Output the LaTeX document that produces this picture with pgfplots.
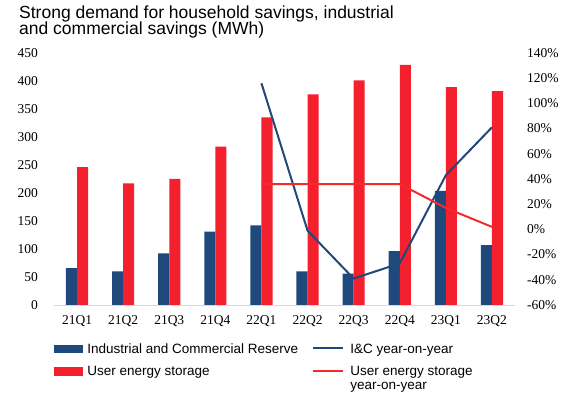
\documentclass[border=0pt]{standalone}
\usepackage{pgfplots}
\pgfplotsset{compat=1.18}
\usepackage{fontspec}
\setmainfont{Liberation Serif}
\newfontfamily\arialf{Liberation Sans}
\definecolor{icblue}{HTML}{1F497D}
\definecolor{usred}{HTML}{F5202E}
\definecolor{icline}{HTML}{24477A}
\definecolor{usline}{HTML}{F42A2D}
\definecolor{axgray}{HTML}{D9D9D9}
\begin{document}
\begin{tikzpicture}
\useasboundingbox (-54pt,-98pt) rectangle (515pt,305pt);
\begin{axis}[
  scale only axis, width=461pt, height=252pt,
  at={(0pt,0pt)}, anchor=south west,
  xmin=-0.5, xmax=9.5, ymin=0, ymax=450,
  axis x line*=bottom, axis y line*=left,
  x axis line style={draw=axgray, line width=0.8pt, -},
  y axis line style={draw=none},
  major tick length=0pt,
  xtick={0,...,9},
  xticklabels={21Q1,21Q2,21Q3,21Q4,22Q1,22Q2,22Q3,22Q4,23Q1,23Q2},
  ytick={0,50,...,450},
  tick label style={font=\fontsize{13.5}{14}\selectfont, inner sep=0pt},
  xticklabel style={yshift=-10pt},
  yticklabel style={xshift=-16pt},
  /pgf/number format/assume math mode=true,
  clip=false,
]
\addplot[ybar, bar width=0.24, bar shift=-0.12, fill=icblue, draw=none] coordinates {
 (0,66) (1,60) (2,92) (3,131) (4,142) (5,60) (6,56) (7,96) (8,204) (9,107)};
\addplot[ybar, bar width=0.24, bar shift=0.12, fill=usred, draw=none] coordinates {
 (0,246) (1,217) (2,225) (3,283) (4,335) (5,376) (6,401) (7,429) (8,389) (9,382)};
\end{axis}
\begin{axis}[
  scale only axis, width=461pt, height=252pt,
  at={(0pt,0pt)}, anchor=south west,
  xmin=-0.5, xmax=9.5, ymin=-60, ymax=140,
  axis y line*=right, axis x line=none,
  y axis line style={draw=none},
  major tick length=0pt,
  ytick={-60,-40,...,140},
  yticklabel={\pgfmathprintnumber{\tick}\%},
  tick label style={font=\fontsize{13.5}{14}\selectfont, inner sep=0pt},
  yticklabel style={anchor=west, xshift=12pt},
  /pgf/number format/assume math mode=true,
  legend columns=2,
  legend style={at={(0,-0.1508)}, anchor=north west, draw=none, fill=none,
    inner sep=0pt, outer sep=0pt, row sep=11.2pt, column sep=0pt,
    font=\arialf\fontsize{13.5}{14}\selectfont,
    cells={anchor=base west}, nodes={inner sep=0pt, text height=10pt}},
  clip=false,
]
\addlegendimage{legend image code/.code={\fill[icblue] (0pt,1pt) rectangle (28pt,8.3pt); \path (33pt,0pt);}}
\addlegendentry{\makebox[225pt][l]{Industrial and Commercial Reserve}}
\addplot[color=icline, line width=2pt, mark=none,
  legend image code/.code={\draw[icline, line width=2pt] (0pt,4.7pt) -- (30pt,4.7pt); \path (36pt,0pt);}]
  coordinates {(4,116) (5,-1) (6,-39) (7,-27) (8,43) (9,81)};
\addlegendentry{I\&C year-on-year}
\addlegendimage{legend image code/.code={\fill[usred] (0pt,1pt) rectangle (28pt,8.3pt); \path (33pt,0pt);}}
\addlegendentry{\makebox[225pt][l]{User energy storage}}
\addplot[color=usline, line width=2pt, mark=none,
  legend image code/.code={\draw[usline, line width=2pt] (0pt,4.7pt) -- (30pt,4.7pt); \path (36pt,0pt);}]
  coordinates {(4,36) (5,36) (6,36) (7,36) (8,17) (9,2)};
\addlegendentry{\vtop{\hbox{User energy storage}\hbox{year-on-year}}}
\end{axis}
\node[anchor=base west, inner sep=0pt, font=\arialf\fontsize{17.5}{20}\selectfont] at (-35pt,286.7pt) {Strong demand for household savings, industrial};
\node[anchor=base west, inner sep=0pt, font=\arialf\fontsize{17.5}{20}\selectfont] at (-35pt,270.5pt) {and commercial savings (MWh)};
\end{tikzpicture}
\end{document}
